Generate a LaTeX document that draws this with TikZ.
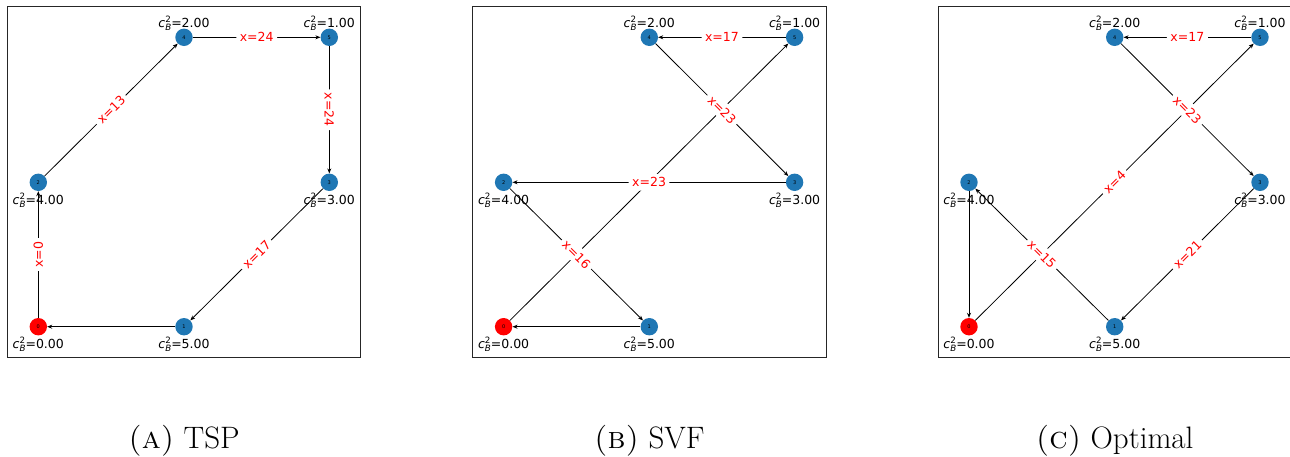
\documentclass[tikz,border=0pt]{standalone}
\usepackage{fontspec}
\newfontfamily\dv{DejaVu Sans}
\usetikzlibrary{arrows.meta}
\definecolor{mplblue}{HTML}{1F77B4}
\definecolor{mplred}{HTML}{FF0000}
\newcommand{\cbl}[1]{{\itshape c}\rlap{\raisebox{0.42em}{\fontsize{8.7pt}{9pt}\selectfont 2}}\raisebox{-0.26em}{\fontsize{8.7pt}{9pt}\selectfont\itshape B}=#1}
\newcommand{\mkpanel}[2]{%
  \draw[axbox] (#2+7.3,6.7) rectangle (#2+360.7,357.3);
  \node[vdep] (#1n0) at (#2+38.3,326.7) {0};
  \node[vtx]  (#1n1) at (#2+184,326.7) {1};
  \node[vtx]  (#1n2) at (#2+38.3,182.3) {2};
  \node[vtx]  (#1n3) at (#2+329.3,182.3) {3};
  \node[vtx]  (#1n4) at (#2+184,37.3) {4};
  \node[vtx]  (#1n5) at (#2+329.3,37.3) {5};
  \node[clab] (#1l0) at (#2+38.3,348.7) {\cbl{0.00}};
  \node[clab] (#1l1) at (#2+184,348.7) {\cbl{5.00}};
  \node[clab] (#1l2) at (#2+38.3,204.3) {\cbl{4.00}};
  \node[clab] (#1l3) at (#2+329.3,204.3) {\cbl{3.00}};
  \node[clab] (#1l4) at (#2+184,27.3) {\cbl{2.00}};
  \node[clab] (#1l5) at (#2+329.3,27.3) {\cbl{1.00}};
}
\begin{document}
\begin{tikzpicture}[x=1pt,y=-1pt,
  vtx/.style={circle,fill=mplblue,minimum size=17.4pt,inner sep=0pt,font=\dv\fontsize{5pt}{6pt}\selectfont},
  vdep/.style={vtx,fill=mplred},
  clab/.style={font=\dv\fontsize{12.5pt}{15pt}\selectfont,inner sep=0pt,anchor=base},
  elab/.style={font=\dv\fontsize{12.5pt}{15pt}\selectfont,text=mplred,fill=white,rounded corners=3pt,inner sep=3.5pt,sloped},
  conn/.style={-{Stealth[length=5pt,width=4pt]},line width=0.8pt,black},
  axbox/.style={line width=1pt,draw=black!85},
  capst/.style={font=\fontsize{31pt}{36pt}\selectfont,anchor=base,inner sep=0pt}]
\useasboundingbox (0,0) rectangle (1290,456);
\fill[white] (0,0) rectangle (1290,456);
% panel A
\mkpanel{a}{0}
\draw[conn] (an0) -- (an2);
\draw[conn] (an2) -- (an4);
\draw[conn] (an4) -- (an5);
\draw[conn] (an5) -- (an3);
\draw[conn] (an3) -- (an1);
\draw[conn] (an1) -- (an0);
\path (an0) -- node[elab] (ae02) {x=0} (an2);
\path (an2) -- node[elab] (ae24) {x=13} (an4);
\path (an4) -- node[elab] (ae45) {x=24} (an5);
\path (an5) -- node[elab] (ae53) {x=24} (an3);
\path (an3) -- node[elab] (ae31) {x=17} (an1);
% panel B
\mkpanel{b}{465.3}
\draw[conn] (bn0) -- (bn5);
\draw[conn] (bn5) -- (bn4);
\draw[conn] (bn4) -- (bn3);
\draw[conn] (bn3) -- (bn2);
\draw[conn] (bn2) -- (bn1);
\draw[conn] (bn1) -- (bn0);
\path (bn5) -- node[elab] (be54) {x=17} (bn4);
\path (bn4) -- node[elab] (be43) {x=23} (bn3);
\path (bn3) -- node[elab] (be32) {x=23} (bn2);
\path (bn2) -- node[elab] (be21) {x=16} (bn1);
% panel C
\mkpanel{c}{930.7}
\draw[conn] (cn0) -- (cn5);
\draw[conn] (cn5) -- (cn4);
\draw[conn] (cn4) -- (cn3);
\draw[conn] (cn3) -- (cn1);
\draw[conn] (cn1) -- (cn2);
\draw[conn] (cn2) -- (cn0);
\path (cn0) -- node[elab] (ce05) {x=4} (cn5);
\path (cn5) -- node[elab] (ce54) {x=17} (cn4);
\path (cn4) -- node[elab] (ce43) {x=23} (cn3);
\path (cn3) -- node[elab] (ce31) {x=21} (cn1);
\path (cn1) -- node[elab] (ce12) {x=15} (cn2);
% captions
\node[capst] (capA) at (184,448) {\textsc{(a)} TSP};
\node[capst] (capB) at (649.3,448) {\textsc{(b)} SVF};
\node[capst] (capC) at (1114.7,448) {\textsc{(c)} Optimal};
\end{tikzpicture}
\end{document}
